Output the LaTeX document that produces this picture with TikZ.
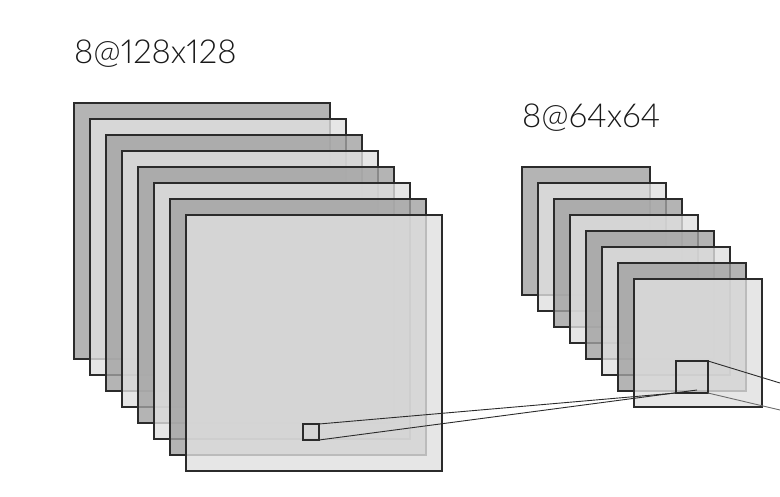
\documentclass[tikz,border=0pt]{standalone}
\usepackage{fontspec}
\setmainfont[UprightFont=* Light,Numbers=Proportional]{Lato}
\definecolor{edge}{HTML}{2B2B2B}
\definecolor{darkfill}{gray}{0.63}
\definecolor{lightfill}{gray}{0.88}
\tikzset{
  sheet/.style={draw=edge,line width=2pt,fill opacity=.8,draw opacity=1,inner sep=0pt,outer sep=0pt,anchor=north west,minimum size=#1},
  dk/.style={sheet=#1,fill=darkfill},
  lt/.style={sheet=#1,fill=lightfill},
  patch/.style={draw=edge,line width=2pt,inner sep=0pt,outer sep=0pt,anchor=north west,minimum size=#1},
  link/.style={draw=edge,line width=.9pt},
  faint/.style={draw=edge!70,line width=.9pt},
  caption/.style={inner sep=0pt,anchor=base west,text=black!90,font=\fontsize{33}{33}\selectfont}
}
\begin{document}
\begin{tikzpicture}[x=1pt,y=-1pt]
\useasboundingbox (0,0) rectangle (780,496);
\clip (0,0) rectangle (780,496);
\node[caption] (t1) at (74,63) {8@128x128};
\node[caption] (t2) at (522,127) {8@64x64};
\node[dk=256pt] (a1) at (74,103) {};
\node[lt=256pt] (a2) at (90,119) {};
\node[dk=256pt] (a3) at (106,135) {};
\node[lt=256pt] (a4) at (122,151) {};
\node[dk=256pt] (a5) at (138,167) {};
\node[lt=256pt] (a6) at (154,183) {};
\node[dk=256pt] (a7) at (170,199) {};
\node[lt=256pt] (a8) at (186,215) {};
\node[dk=128pt] (b1) at (522,167) {};
\node[lt=128pt] (b2) at (538,183) {};
\node[dk=128pt] (b3) at (554,199) {};
\node[lt=128pt] (b4) at (570,215) {};
\node[dk=128pt] (b5) at (586,231) {};
\node[lt=128pt] (b6) at (602,247) {};
\node[dk=128pt] (b7) at (618,263) {};
\node[lt=128pt] (b8) at (634,279) {};
\node[patch=16pt] (s1) at (303,424) {};
\node[patch=32pt] (s2) at (676,361) {};
\coordinate (e1) at (697,390);
\coordinate (o1) at (780,383);
\coordinate (o2) at (780,410);
\draw[link] (s1.north east) -- (s2.south west);
\draw[link] (s1.south east) -- (e1);
\draw[link] (s2.north east) -- (o1);
\draw[faint] (s2.south east) -- (o2);
\end{tikzpicture}
\end{document}
